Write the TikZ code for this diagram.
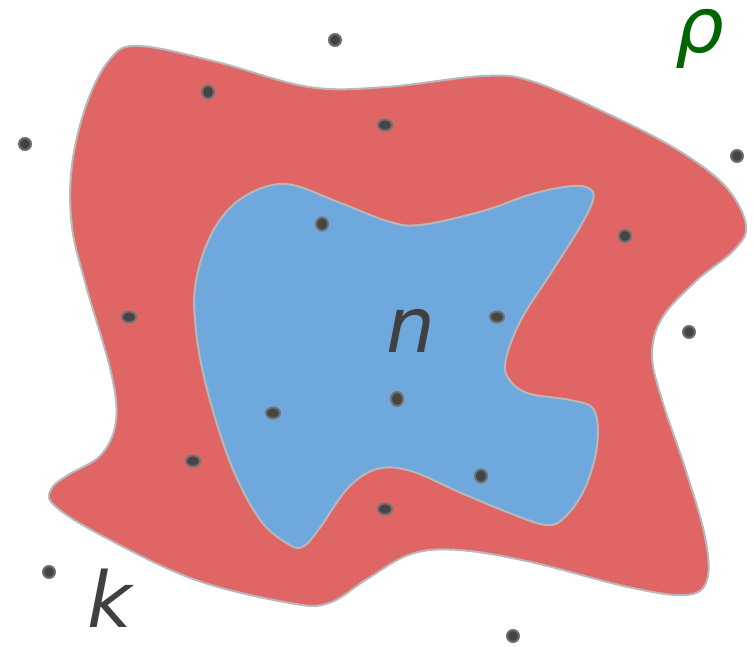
\documentclass[tikz,border=0pt]{standalone}
\usepackage{fontspec}
\setmainfont{DejaVu Sans}
\definecolor{blobred}{HTML}{E06666}
\definecolor{blobblue}{HTML}{6FA8DC}
\definecolor{rim}{HTML}{B8B8B8}
\definecolor{dotgray}{HTML}{454545}
\definecolor{dotrim}{HTML}{707070}
\definecolor{labelgray}{HTML}{404040}
\definecolor{rhogreen}{HTML}{006400}

\begin{document}
\begin{tikzpicture}[x=0.5pt, y=-0.5pt, line width=1pt,
  label/.style={inner sep=0pt, font=\fontsize{38.5}{46}\selectfont\itshape}]

% Canvas
\useasboundingbox (0,0) rectangle (754,647);

% Outer region
\filldraw[fill=blobred, draw=rim, line width=1pt]
  plot[smooth cycle, tension=0.6] coordinates {
    (140,46) (217,62) (309,87) (386,87) (483,76) (531,81) (604,112) (676,149)
    (725,186) (746,225) (734,250) (696,281) (662,318) (652,355) (662,400)
    (686,471) (705,537) (707,580) (686,595) (628,587) (531,562) (459,550)
    (411,554) (367,579) (329,603) (290,603) (193,579) (97,533) (53,504)
    (52,488) (68,475) (101,455) (116,421) (111,372) (87,289) (72,227)
    (72,165) (87,103) (111,58)};

% Inner region
\filldraw[fill=blobblue, draw=rim, line width=1pt]
  plot[smooth cycle, tension=0.6] coordinates {
    (285,184) (338,202) (387,221) (420,225) (483,211) (532,194) (572,186)
    (590,189) (593,200) (580,227) (551,273) (522,318) (507,355) (507,376)
    (527,393) (570,400) (594,410) (597,446) (585,488) (565,517) (546,525)
    (507,512) (459,492) (411,471) (377,469) (348,488) (319,529) (304,546)
    (290,545) (261,521) (232,467) (208,393) (196,331) (196,281) (213,231)
    (242,198)};

% Points
\foreach \px/\py/\rx/\ry in {335/40/6/6, 25/144/6/6, 208/92/6/6.5, 385/125/7/5.5,
    737/156/6/6, 322/224/6/6.5, 625/236/6/6, 129/317/7/5.5, 497/317/7/5.5,
    689/332/6/6, 397/399/6/7, 273/413/7/5.5, 193/461/7/5.5, 481/476/6/6.5,
    385/509/7/5.5, 49/572/6/6, 513/636/6/6}
  \filldraw[fill=dotgray, draw=dotrim] (\px,\py) ellipse[x radius=\rx, y radius=\ry];

% Labels
\node[label, text=rhogreen] (rho) at (700,39) {ρ};
\node[label, text=labelgray] (setn) at (411,331) {n};
\node[label, text=labelgray] (setk) at (110,598) {k};

\end{tikzpicture}
\end{document}
